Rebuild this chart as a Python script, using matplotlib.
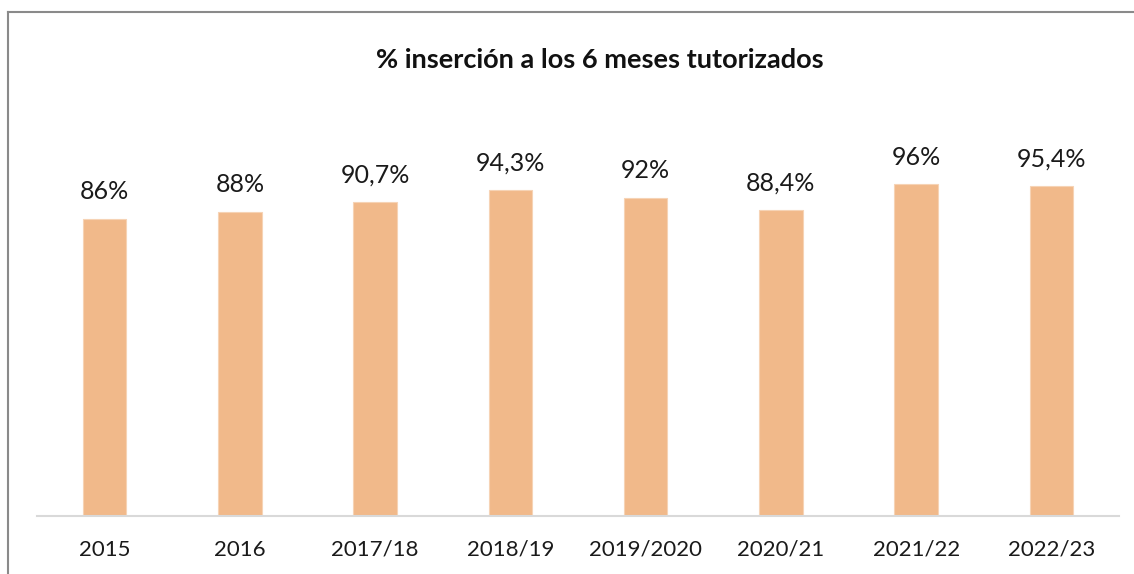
import matplotlib.pyplot as plt
from matplotlib.lines import Line2D

categories = ['2015', '2016', '2017/18', '2018/19', '2019/2020', '2020/21', '2021/22', '2022/23']
values = [86, 88, 90.7, 94.3, 92, 88.4, 96, 95.4]
labels = ['86%', '88%', '90,7%', '94,3%', '92%', '88,4%', '96%', '95,4%']

W, H = 1134, 574
fig = plt.figure(figsize=(W / 100, H / 100), dpi=100)
plt.rcParams['font.family'] = ['Lato', 'DejaVu Sans']

# plot area in pixels: x 37..1119, baseline at y=516, top at y=101
ax = fig.add_axes([37 / W, (H - 516) / H, (1119 - 37) / W, (516 - 101) / H])
x = range(len(categories))
ax.bar(x, values, width=0.32, color='#F1B98A', edgecolor='#F6D3B5', linewidth=0.8)
for i, v in enumerate(values):
    ax.text(i, v + 7.8, labels[i], ha='center', va='center', fontsize=18, color='#1a1a1a')

ax.set_xlim(-0.5, len(categories) - 0.5)
ax.set_ylim(0, 120)
ax.set_yticks([])
ax.set_xticks(list(x))
ax.set_xticklabels(categories, fontsize=16, color='#1a1a1a')
ax.tick_params(axis='x', length=0, pad=17)
for s in ['top', 'right', 'left']:
    ax.spines[s].set_visible(False)
ax.spines['bottom'].set_color('#D9D9D9')
ax.spines['bottom'].set_linewidth(1.5)

fig.text(600 / W, 1 - 60 / H, '% inserción a los 6 meses tutorizados', ha='center', va='center',
         fontsize=19.5, fontweight='bold', color='#111111')

# chart border (left and top edges visible)
fig.add_artist(Line2D([8 / W, 8 / W], [0, 1 - 12 / H], color='#8a8a8a', linewidth=1.5))
fig.add_artist(Line2D([8 / W, 1], [1 - 12 / H, 1 - 12 / H], color='#8a8a8a', linewidth=1.5))

fig.savefig('out.png', dpi=100)
